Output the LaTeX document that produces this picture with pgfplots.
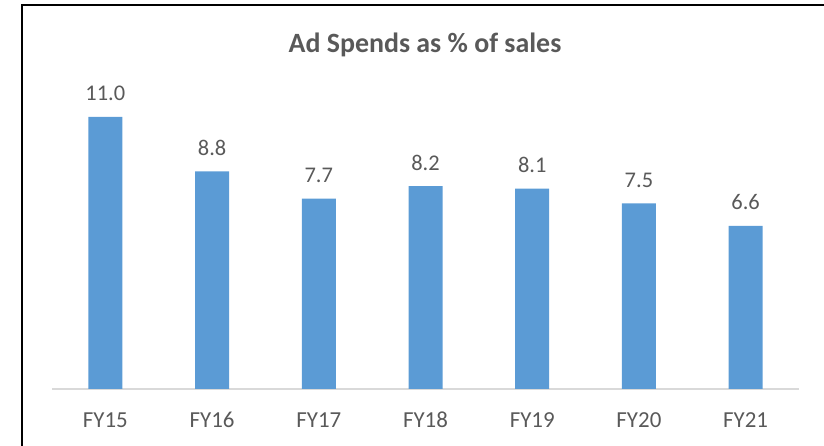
\documentclass[border=0pt]{standalone}
\usepackage{pgfplots}
\pgfplotsset{compat=1.18}
\usepackage{fontspec}
\setmainfont{Carlito}
\definecolor{barblue}{HTML}{5B9BD5}
\definecolor{txtgray}{HTML}{595959}
\definecolor{axgray}{HTML}{D9D9D9}
\begin{document}
\begin{tikzpicture}[x=1bp,y=1bp]
\useasboundingbox (0,0) rectangle (824,446);
\draw[line width=1.5bp, black] (22,-5) -- (22,441) -- (830,441);
\node[anchor=base, text=txtgray, font=\bfseries\fontsize{28}{33}\selectfont, inner sep=0] at (425,393) {Ad Spends as \% of sales};
\begin{axis}[
  at={(52bp,57bp)}, anchor=south west,
  scale only axis,
  width=747bp, height=296.8bp,
  xmin=-0.5, xmax=6.5, ymin=0, ymax=12,
  enlargelimits=false,
  axis y line=none,
  axis x line=bottom,
  x axis line style={-, draw=axgray, line width=1.2bp},
  xtick=data,
  xticklabels={FY15,FY16,FY17,FY18,FY19,FY20,FY21},
  major tick length=0,
  xticklabel style={anchor=base, yshift=-39bp, inner sep=0, text=txtgray, font=\fontsize{23}{27}\selectfont},
  ybar, bar width=34bp,
  nodes near coords,
  /pgf/number format/assume math mode=true,
  /pgf/number format/.cd, fixed, fixed zerofill, precision=1, /pgfplots/.cd,
  nodes near coords style={anchor=base, yshift=16bp, inner sep=0, text=txtgray, font=\fontsize{22.5}{27}\selectfont},
]
\addplot[fill=barblue, draw=none] coordinates {(0,11.0) (1,8.8) (2,7.7) (3,8.2) (4,8.1) (5,7.5) (6,6.6)};
\end{axis}
\end{tikzpicture}
\end{document}
